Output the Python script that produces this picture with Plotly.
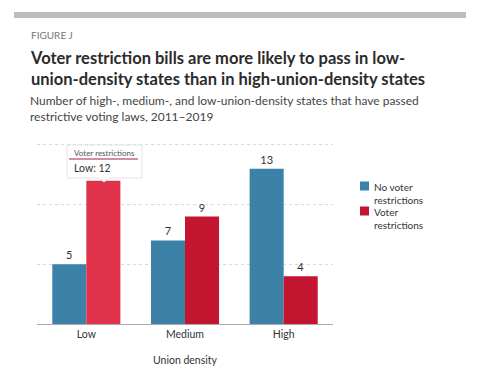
import plotly.graph_objects as go

categories = ["Low", "Medium", "High"]
no_restrictions = [5, 7, 13]
restrictions = [12, 9, 4]
series_names = ["No voter<br>restrictions", "Voter<br>restrictions"]
hover_category = "Low"

W, H = 480, 374
def py(y):
    return 1 - y / H
def px(x):
    return x / W

BLUE = "#3b82a6"
RED = "#c3152f"
RED_HOVER = "#e0324a"
FONT = "Lato"

red_labels = ["" if c == hover_category else str(v) for c, v in zip(categories, restrictions)]
red_colors = [RED_HOVER if c == hover_category else RED for c in categories]
hover_value = restrictions[categories.index(hover_category)]

fig = go.Figure()
fig.add_trace(go.Bar(
    x=categories, y=no_restrictions, name=series_names[0],
    marker=dict(color=BLUE, line=dict(width=0)),
    text=[str(v) for v in no_restrictions], textposition="outside",
    textfont=dict(size=11, color="#333", family=FONT), cliponaxis=False, showlegend=False,
))
fig.add_trace(go.Bar(
    x=categories, y=restrictions, name=series_names[1],
    marker=dict(color=red_colors, line=dict(width=0)),
    text=red_labels, textposition="outside",
    textfont=dict(size=11, color="#333", family=FONT), cliponaxis=False, showlegend=False,
))

shapes = [
    dict(type="rect", xref="paper", yref="paper", x0=px(14), x1=px(466), y0=py(18), y1=py(12),
         fillcolor="#bdbdbd", line=dict(width=0), layer="below"),
    dict(type="rect", xref="paper", yref="paper", x0=px(67), x1=px(142), y0=py(178), y1=py(145),
         fillcolor="white", line=dict(color="#e4e4e4", width=1), layer="above"),
    dict(type="path", xref="paper", yref="paper",
         path=f"M {px(99)} {py(178)} L {px(104)} {py(182)} L {px(109)} {py(178)} Z",
         fillcolor="white", line=dict(color="#e4e4e4", width=1), layer="above"),
    dict(type="line", xref="paper", yref="paper", x0=px(99.5), x1=px(108.5), y0=py(178), y1=py(178),
         line=dict(color="white", width=1.5), layer="above"),
    dict(type="line", xref="paper", yref="paper", x0=px(69), x1=px(138), y0=py(159), y1=py(159),
         line=dict(color="#a8203c", width=1.2), layer="above"),
]

annotations = [
    dict(text="FIGURE J", x=px(29), y=py(35), xref="paper", yref="paper", xanchor="left", yanchor="middle",
         showarrow=False, font=dict(size=10, color="#777", family=FONT)),
    dict(text="<b>Voter restriction bills are more likely to pass in low-<br>union-density states than in high-union-density states</b>",
         x=px(28), y=py(69), xref="paper", yref="paper", xanchor="left", yanchor="middle", align="left",
         showarrow=False, font=dict(size=16.5, color="#2b2b2b", family=FONT)),
    dict(text="Number of high-, medium-, and low-union-density states that have passed<br>restrictive voting laws, 2011\u20132019",
         x=px(28), y=py(108), xref="paper", yref="paper", xanchor="left", yanchor="middle", align="left",
         showarrow=False, font=dict(size=12, color="#444", family=FONT)),
    dict(text="Voter restrictions", x=px(72), y=py(153), xref="paper", yref="paper", xanchor="left", yanchor="middle",
         showarrow=False, font=dict(size=8, color="#555", family=FONT)),
    dict(text=f"{hover_category}: {hover_value}", x=px(72), y=py(167.5), xref="paper", yref="paper",
         xanchor="left", yanchor="middle",
         showarrow=False, font=dict(size=10.5, color="#333", family=FONT)),
    dict(text="Union density", x=px(185), y=py(360), xref="paper", yref="paper", xanchor="center", yanchor="middle",
         showarrow=False, font=dict(size=10.5, color="#333", family=FONT)),
]

# custom legend
for i, (name, col) in enumerate(zip(series_names, [BLUE, RED])):
    top = 181.5 + 25 * i
    shapes.append(dict(type="rect", xref="paper", yref="paper", x0=px(360), x1=px(369),
                       y0=py(top + 9), y1=py(top), fillcolor=col, line=dict(width=0)))
    annotations.append(dict(text=name, x=px(372), y=py(top - 2.5), xref="paper", yref="paper",
                            xanchor="left", yanchor="top", align="left", showarrow=False,
                            font=dict(size=10, color="#333", family=FONT)))

PX_PER_UNIT = 179 / 15
Y_MAX = 16

fig.update_layout(
    width=W, height=H,
    margin=dict(l=0, r=0, t=0, b=0, autoexpand=False),
    paper_bgcolor="white", plot_bgcolor="white",
    font=dict(family=FONT, color="#333"),
    barmode="group", bargap=0.31, bargroupgap=0,
    showlegend=False,
    xaxis=dict(domain=[px(37), px(333)], showline=True, linecolor="#aaa", linewidth=1,
               ticks="", automargin=False, tickfont=dict(size=10.5, color="#333", family=FONT)),
    yaxis=dict(domain=[py(324), py(324 - Y_MAX * PX_PER_UNIT)], range=[0, Y_MAX], showticklabels=False,
               automargin=False, showgrid=True, gridcolor="#d9d9d9", griddash="dot", gridwidth=1,
               tickvals=[5, 10, 15], zeroline=False),
    shapes=shapes, annotations=annotations,
)

fig.write_html("out.html", config={"displayModeBar": False},
               post_script="document.body.style.margin='0';")
